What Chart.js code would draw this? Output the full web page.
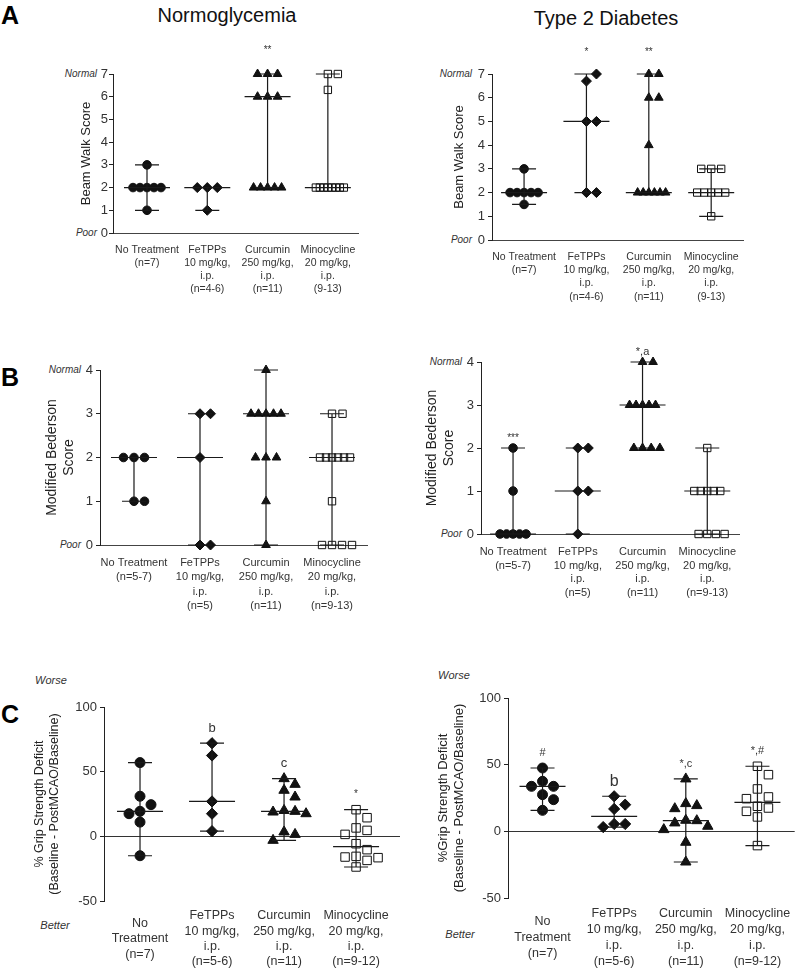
<!DOCTYPE html>
<html>
<head>
<meta charset="utf-8">
<script src="https://cdn.jsdelivr.net/npm/chart.js@4.4.1/dist/chart.umd.min.js"></script>
<style>
  html, body { margin: 0; padding: 0; background: #fff; }
  #page { position: relative; width: 807px; height: 971px; overflow: hidden;
          font-family: "Liberation Sans", Arial, Helvetica, sans-serif; color: #222; }
  #page canvas { position: absolute; }
  .t { position: absolute; white-space: nowrap; line-height: 1; transform: translate(-50%, -50%); }
  .r { transform: translate(-100%, -50%); }
  .letter { font-weight: bold; font-size: 25px; transform: translate(0, -50%); color: #000; }
  .title { font-size: 20px; color: #111; }
  .it { font-style: italic; font-size: 10px; color: #333; }
  .it2 { font-style: italic; font-size: 11px; color: #333; }
</style>
</head>
<body>
<div id="page">
  <div class="t letter" style="left:1px;top:15px">A</div>
  <div class="t title" style="left:227px;top:15px">Normoglycemia</div>
  <div class="t title" style="left:606px;top:18px">Type 2 Diabetes</div>
  <div class="t letter" style="left:1px;top:377px">B</div>
  <div class="t letter" style="left:1px;top:714px">C</div>

  <div class="t it r" style="left:97px;top:74px">Normal</div>
  <div class="t it r" style="left:97px;top:233px">Poor</div>
  <div class="t it r" style="left:472px;top:74px">Normal</div>
  <div class="t it r" style="left:472px;top:240px">Poor</div>
  <div class="t it r" style="left:81px;top:370px">Normal</div>
  <div class="t it r" style="left:81px;top:545px">Poor</div>
  <div class="t it r" style="left:462px;top:362px">Normal</div>
  <div class="t it r" style="left:462px;top:534px">Poor</div>

  <div class="t it2" style="left:51px;top:680px">Worse</div>
  <div class="t it2" style="left:55px;top:925px">Better</div>
  <div class="t it2" style="left:454px;top:675px">Worse</div>
  <div class="t it2" style="left:460px;top:934px">Better</div>
</div>

<script>
// 그룹별 값 (그림에서 읽은 값, 위에서 아래 순서)
const labelsA = [['No Treatment', '(n=7)'], ['FeTPPs', '10 mg/kg,', 'i.p.', '(n=4-6)'],
                 ['Curcumin', '250 mg/kg,', 'i.p.', '(n=11)'], ['Minocycline', '20 mg/kg,', 'i.p.', '(9-13)']];
const labelsB = [['No Treatment', '(n=5-7)'], ['FeTPPs', '10 mg/kg,', 'i.p.', '(n=5)'],
                 ['Curcumin', '250 mg/kg,', 'i.p.', '(n=11)'], ['Minocycline', '20 mg/kg,', 'i.p.', '(n=9-13)']];
const labelsC = [['No', 'Treatment', '(n=7)'], ['FeTPPs', '10 mg/kg,', 'i.p.', '(n=5-6)'],
                 ['Curcumin', '250 mg/kg,', 'i.p.', '(n=11)'], ['Minocycline', '20 mg/kg,', 'i.p.', '(n=9-12)']];

const beamTicks = [0, 1, 2, 3, 4, 5, 6, 7];
const bedersonTicks = [0, 1, 2, 3, 4];
const gripTicks = [-50, 0, 50, 100];

const beamNormo = [
  [3, 2, 2, 2, 2, 2, 1],
  [2, 2, 2, 1],
  [7, 7, 7, 6, 6, 6, 2, 2, 2, 2, 2],
  [7, 7, 6.3, 2, 2, 2, 2, 2, 2, 2, 2]
];
const beamDiabetes = [
  [3, 2, 2, 2, 2, 2, 1.5],
  [6.7, 7, 5, 5, 2, 2],
  [7, 7, 6, 6, 4, 2, 2, 2, 2, 2, 2],
  [3, 3, 3, 2, 2, 2, 2, 2, 1]
];
const bedersonNormo = [
  [2, 2, 2, 1, 1],
  [3, 3, 2, 0, 0],
  [4, 3, 3, 3, 3, 3, 2, 2, 2, 1, 0],
  [3, 3, 2, 2, 2, 2, 2, 2, 1, 0, 0, 0, 0]
];
const bedersonDiabetes = [
  [2, 1, 0, 0, 0, 0, 0],
  [2, 2, 1, 1, 0],
  [4, 4, 3, 3, 3, 3, 3, 2, 2, 2, 2],
  [2, 1, 1, 1, 1, 1, 0, 0, 0, 0]
];
const gripNormo = [
  [57, 31, 24.5, 19.3, 17.5, 11, -15],
  [72, 62.5, 27, 17.5, 4],
  [44.6, 40.2, 35.6, 30.4, 20, 19.3, 18.8, 17.5, 3.4, 1.5, -3.1],
  [20.6, 14.4, 6.5, 4.6, 1.5, -5.7, -10.3, -15.5, -16, -16.5, -18.6, -23.7]
];
const gripDiabetes = [
  [47.5, 37.5, 33.75, 33.75, 27.5, 23.75, 15.75],
  [26.3, 20, 16.8, 5.5, 5.5, 3.2],
  [39.3, 20.8, 19.3, 17, 8.3, 8, 6.3, 3.8, 1.3, -8.2, -23],
  [48.8, 42.5, 31.8, 25.8, 24.5, 18.8, 17.5, 15, 10.8, -10.7]
];

const sigBeamNormo = ['', '', '**', ''];
const sigBeamDiabetes = ['', '*', '**', ''];
const sigBedersonNormo = ['', '', '', ''];
const sigBedersonDiabetes = ['***', '', '*,a', ''];
const sigGripNormo = ['', 'b', 'c', '*'];
const sigGripDiabetes = ['#', 'b', '*,c', '*,#'];

Chart.defaults.font.family = '"Liberation Sans", Arial, Helvetica, sans-serif';
Chart.defaults.color = '#333';
Chart.defaults.animation = false;

const markers = [
  {style: 'circle', fill: '#111'},
  {style: 'rectRot', fill: '#111'},
  {style: 'triangle', fill: '#111'},
  {style: 'rect', fill: 'rgba(0,0,0,0)'}
];
const smallMarks = [4.3, 5, 5, 5.2];
const largeMarks = [5, 5.6, 6, 6];

const panels = [
  { values: beamNormo, labels: labelsA, ticks: beamTicks, sig: sigBeamNormo, title: 'Beam Walk Score',
    left: 0, top: 34, yW: 113, padTop: 40, plotW: 245, plotH: 159, padRight: 14, xH: 72, tickPad: 1,
    xMin: 0.436, xMax: 4.5, titleSize: 13, titleLH: 1.2, titlePad: 79,
    labelSize: 10.5, labelLH: 1.24, labelPad: 10.5, crossAlign: 'near',
    marks: smallMarks, swarmD: 10, swarmSpan: 28, sigGap: 24, sigSize: [10, 10, 10, 10], zero: false },
  { values: beamDiabetes, labels: labelsA, ticks: beamTicks, sig: sigBeamDiabetes, title: 'Beam Walk Score',
    left: 405, top: 34, yW: 87, padTop: 40, plotW: 251, plotH: 166, padRight: 14, xH: 72, tickPad: 3,
    xMin: 0.486, xMax: 4.51, titleSize: 13, titleLH: 1.2, titlePad: 47,
    labelSize: 10.5, labelLH: 1.26, labelPad: 10.4, crossAlign: 'near',
    marks: smallMarks, swarmD: 10, swarmSpan: 28, sigGap: 22, sigSize: [10, 10, 10, 10], zero: false },
  { values: bedersonNormo, labels: labelsB, ticks: bedersonTicks, sig: sigBedersonNormo, title: ['Modified Bederson', 'Score'],
    left: 0, top: 345, yW: 100, padTop: 25, plotW: 267, plotH: 175, padRight: 14, xH: 72, tickPad: 3,
    xMin: 0.485, xMax: 4.53, titleSize: 14, titleLH: 1.2, titlePad: 43.6,
    labelSize: 11, labelLH: 1.3, labelPad: 10.8, crossAlign: 'near',
    marks: smallMarks, swarmD: 10.5, swarmSpan: 30, sigGap: 10, sigSize: [10, 10, 10, 10], zero: false },
  { values: bedersonDiabetes, labels: labelsB, ticks: bedersonTicks, sig: sigBedersonDiabetes, title: ['Modified Bederson', 'Score'],
    left: 405, top: 332, yW: 76, padTop: 30, plotW: 258, plotH: 172, padRight: 14, xH: 72, tickPad: 3,
    xMin: 0.505, xMax: 4.49, titleSize: 14, titleLH: 1.2, titlePad: 18.6,
    labelSize: 11, labelLH: 1.25, labelPad: 11, crossAlign: 'near',
    marks: smallMarks, swarmD: 10.5, swarmSpan: 26, sigGap: 10, sigSize: [10, 10, 11, 10], zero: false },
  { values: gripNormo, labels: labelsC, ticks: gripTicks, sig: sigGripNormo, title: ['% Grip Strength Deficit', '(Baseline - PostMCAO/Baseline)'],
    left: 0, top: 692, yW: 104, padTop: 15, plotW: 296, plotH: 194, padRight: 14, xH: 70, tickPad: 3,
    xMin: 0.5, xMax: 4.61, titleSize: 12.5, titleLH: 1.2, titlePad: 32.5,
    labelSize: 12.5, labelLH: 1.22, labelPad: 15, crossAlign: 'center',
    marks: largeMarks, swarmD: 11, swarmSpan: 30, sigGap: 15, sigSize: [12, 13, 13, 10], zero: true },
  { values: gripDiabetes, labels: labelsC, ticks: gripTicks, sig: sigGripDiabetes, title: ['%Grip Strength Deficit', '(Baseline - PostMCAO/Baseline)'],
    left: 405, top: 683, yW: 103, padTop: 15, plotW: 299, plotH: 200, padRight: 0, xH: 73, tickPad: 3,
    xMin: 0.518, xMax: 4.52, titleSize: 13, titleLH: 1.3, titlePad: 29.5,
    labelSize: 12.5, labelLH: 1.28, labelPad: 16, crossAlign: 'center',
    marks: largeMarks, swarmD: 11, swarmSpan: 30, sigGap: 15, sigSize: [11, 16, 11, 11], zero: true }
];

function median(arr) {
  const s = arr.slice().sort((a, b) => a - b);
  const m = Math.floor(s.length / 2);
  return s.length % 2 ? s[m] : (s[m - 1] + s[m]) / 2;
}

// 중앙값 + 범위 선, 유의성 표시
function rangePlugin(p) {
  return {
    id: 'medianRange',
    afterDatasetsDraw(chart) {
      const {ctx, scales: {x, y}} = chart;
      ctx.save();
      ctx.strokeStyle = '#1a1a1a';
      ctx.lineWidth = 1.2;
      p.values.forEach((vals, i) => {
        const cx = x.getPixelForValue(i + 1);
        const lo = y.getPixelForValue(Math.min(...vals));
        const hi = y.getPixelForValue(Math.max(...vals));
        const md = y.getPixelForValue(median(vals));
        ctx.beginPath();
        ctx.moveTo(cx, lo); ctx.lineTo(cx, hi);
        ctx.moveTo(cx - 12, lo); ctx.lineTo(cx + 12, lo);
        ctx.moveTo(cx - 12, hi); ctx.lineTo(cx + 12, hi);
        ctx.moveTo(cx - 23, md); ctx.lineTo(cx + 23, md);
        ctx.stroke();
        if (p.sig[i]) {
          ctx.fillStyle = '#333';
          ctx.font = p.sigSize[i] + 'px "Liberation Sans", Arial, sans-serif';
          ctx.textAlign = 'center';
          ctx.textBaseline = 'middle';
          ctx.fillText(p.sig[i], cx, hi - p.sigGap);
        }
      });
      ctx.restore();
    }
  };
}

// GraphPad 식 산점 배치
function placeSwarm(chart, p) {
  const xs = chart.scales.x, ys = chart.scales.y;
  const pxX = xs.getPixelForValue(2) - xs.getPixelForValue(1);
  const d = p.swarmD;
  chart.data.datasets.forEach((ds, i) => {
    const vals = p.values[i];
    const placed = [];
    ds.data = vals.map(v => {
      const py = ys.getPixelForValue(v);
      const same = vals.filter(u => u === v).length;
      const step = same > 1 ? Math.min(d, p.swarmSpan / (same - 1)) : d;
      let off = 0;
      for (let k = 0; k < 60; k++) {
        off = (k % 2 ? 1 : -1) * Math.ceil(k / 2) * step;
        const hit = placed.some(q => Math.abs(q.x - off) < step * 0.9 && Math.abs(q.y - py) < d * 0.9);
        if (!hit) break;
      }
      placed.push({x: off, y: py});
      return {x: i + 1 + off / pxX, y: v};
    });
  });
  chart.update();
}

const page = document.getElementById('page');

panels.forEach(p => {
  const canvas = document.createElement('canvas');
  const w = p.yW + p.plotW + p.padRight;
  const h = p.padTop + p.plotH + p.xH;
  canvas.width = w;
  canvas.height = h;
  canvas.style.left = p.left + 'px';
  canvas.style.top = p.top + 'px';
  canvas.style.width = w + 'px';
  canvas.style.height = h + 'px';
  page.appendChild(canvas);

  const datasets = p.values.map((vals, i) => ({
    data: vals.map(v => ({x: i + 1, y: v})),
    pointStyle: markers[i].style,
    pointRadius: p.marks[i],
    pointBackgroundColor: markers[i].fill,
    pointBorderColor: '#111',
    pointBorderWidth: 1,
    clip: false
  }));

  const chart = new Chart(canvas, {
    type: 'scatter',
    data: {datasets},
    options: {
      responsive: false,
      devicePixelRatio: 1,
      events: [],
      layout: {padding: {top: p.padTop, right: p.padRight, left: 0, bottom: 0}},
      plugins: {legend: {display: false}, tooltip: {enabled: false}},
      scales: {
        x: {
          type: 'linear',
          min: p.xMin,
          max: p.xMax,
          afterBuildTicks: s => { s.ticks = [1, 2, 3, 4].map(v => ({value: v})); },
          afterFit: s => { s.height = p.xH; },
          grid: {display: false, drawTicks: false},
          border: {display: !p.zero, color: '#444', width: 1},
          ticks: {
            autoSkip: false, maxRotation: 0, minRotation: 0,
            padding: p.labelPad,
            crossAlign: p.crossAlign,
            color: '#333',
            font: {size: p.labelSize, lineHeight: p.labelLH},
            callback: v => p.labels[v - 1]
          }
        },
        y: {
          min: p.ticks[0],
          max: p.ticks[p.ticks.length - 1],
          afterBuildTicks: s => { s.ticks = p.ticks.map(v => ({value: v})); },
          afterFit: s => { s.width = p.yW; },
          border: {color: '#222', width: 1},
          grid: {
            drawOnChartArea: p.zero,
            color: c => (p.zero && c.tick && c.tick.value === 0) ? '#333' : 'rgba(0,0,0,0)',
            tickColor: '#222',
            tickLength: 4,
            lineWidth: 1
          },
          ticks: {padding: p.tickPad, color: '#333', font: {size: 13}},
          title: {
            display: true,
            text: p.title,
            color: '#222',
            font: {size: p.titleSize, lineHeight: p.titleLH},
            padding: {top: p.titlePad, bottom: 0}
          }
        }
      }
    },
    plugins: [rangePlugin(p)]
  });

  placeSwarm(chart, p);
});
</script>
</body>
</html>
